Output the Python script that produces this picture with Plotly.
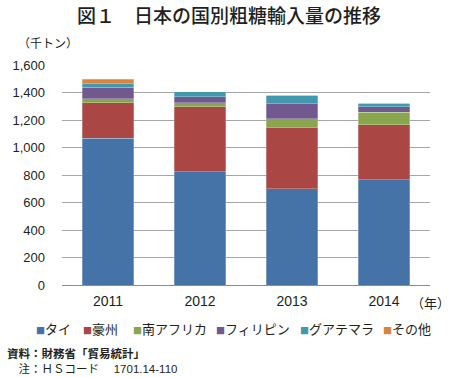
import plotly.graph_objects as go

years = ["2011", "2012", "2013", "2014"]
series_names = ["タイ", "豪州", "南アフリカ", "フィリピン", "グアテマラ", "その他"]
thai = [1068, 823, 699, 767]
australia = [257, 473, 449, 400]
south_africa = [29, 29, 60, 90]
philippines = [85, 43, 112, 41]
guatemala = [24, 39, 61, 24]
others = [34, 0, 0, 0]
series_values = [thai, australia, south_africa, philippines, guatemala, others]
colors = ["#4572A7", "#AA4643", "#89A54E", "#71588F", "#4198AF", "#DB843D"]
y_ticks = [0, 200, 400, 600, 800, 1000, 1200, 1400, 1600]

W, H = 450, 377
L, R, T, B = 58, 20, 65, 92
plot_h = H - T - B
plot_w = W - L - R

def py(p):
    return (H - B - p) / plot_h

def px(p):
    return (p - L) / plot_w

FONT = "Arial, Liberation Sans, Noto Sans CJK JP"
JFONT = "Noto Sans CJK JP, Arial"

fig = go.Figure()
for name, vals, c in zip(series_names, series_values, colors):
    fig.add_trace(go.Bar(x=years, y=vals, name=name, marker_color=c,
                         marker_line=dict(width=0.6, color="rgba(255,255,255,0.45)"),
                         showlegend=False))

annotations = [
    dict(text="図１　日本の国別粗糖輸入量の推移", x=px(227), y=py(15), xref="paper", yref="paper",
         showarrow=False, font=dict(family=JFONT, size=19, color="#231f20", weight=500),
         xanchor="center", yanchor="middle"),
    dict(text="（千トン）", x=px(12), y=py(43), xref="paper", yref="paper",
         showarrow=False, font=dict(family=JFONT, size=12, color="#231f20"), xanchor="left", yanchor="middle"),
    dict(text="（年）", x=px(430), y=py(302), xref="paper", yref="paper",
         showarrow=False, font=dict(family=JFONT, size=13, color="#231f20"), xanchor="center", yanchor="middle"),
    dict(text="<b>資料：財務省「貿易統計」</b>", x=px(0), y=py(353), xref="paper", yref="paper",
         showarrow=False, font=dict(family=JFONT, size=11.5, color="#231f20"), xanchor="left", yanchor="middle"),
    dict(text="　注：ＨＳコード　 1701.14-110", x=px(0), y=py(369), xref="paper", yref="paper",
         showarrow=False, font=dict(family=FONT, size=11.5, color="#231f20"), xanchor="left", yanchor="middle"),
]
legend_x = [30, 77, 128, 212, 297, 380]
for name, c, lx in zip(series_names, colors, legend_x):
    annotations.append(dict(
        text=f'<span style="color:{c};font-size:9px">■</span>{name}',
        x=px(lx), y=py(328), xref="paper", yref="paper", showarrow=False,
        font=dict(family=JFONT, size=13, color="#231f20"), xanchor="left", yanchor="middle"))

fig.update_layout(
    width=W, height=H, barmode="stack", bargap=0.44,
    margin=dict(l=L, r=R, t=T, b=B, pad=0),
    paper_bgcolor="white", plot_bgcolor="white",
    annotations=annotations,
    xaxis=dict(showgrid=False, showline=False, ticks="", ticklabelstandoff=6,
               tickfont=dict(family=FONT, size=14, color="#231f20")),
    yaxis=dict(range=[0, 1600], tickvals=y_ticks, tickformat=",", showgrid=True, gridcolor="#a6a6a6",
               gridwidth=1, zeroline=True, zerolinecolor="#8c8c8c", zerolinewidth=1,
               showline=False, ticks="", ticklabelstandoff=16,
               tickfont=dict(family=FONT, size=13, color="#231f20")),
)
fig.write_html("out.html", config={"displayModeBar": False},
               post_script="document.body.style.margin='0';document.body.style.overflow='hidden';")
